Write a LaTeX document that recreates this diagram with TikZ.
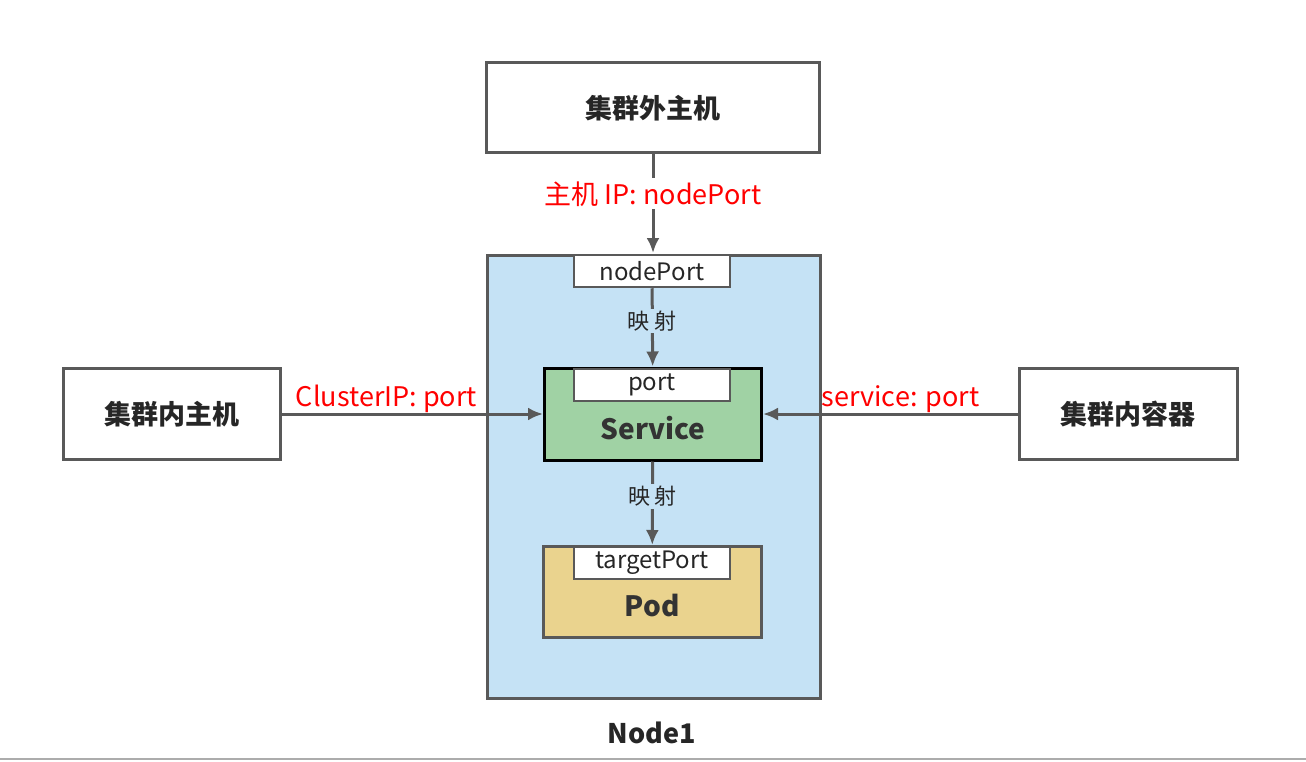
\documentclass[tikz,border=0pt]{standalone}
\usepackage{fontspec}
\setmainfont{Noto Sans CJK SC}
\usetikzlibrary{arrows.meta,positioning}
\definecolor{edge}{HTML}{595959}
\definecolor{nodeblue}{HTML}{C5E2F5}
\definecolor{svcgreen}{HTML}{A0D2A4}
\definecolor{podyellow}{HTML}{EAD38E}
\begin{document}
\begin{tikzpicture}[x=1pt,y=-1pt,>={Latex[length=15pt,width=13pt]},
  box/.style={draw=edge,line width=3pt,fill=white,inner sep=0pt,text=black!85,font=\fontsize{27}{31}\selectfont\bfseries},
  tag/.style={draw=edge,line width=2.5pt,fill=white,inner sep=0pt,minimum width=156pt,minimum height=32pt,text=black!85,font=\fontsize{24}{28}\selectfont},
  conn/.style={->,draw=edge,line width=3pt},
  red/.style={text=red,font=\fontsize{27}{31}\selectfont},
  map/.style={font=\fontsize{22}{26}\selectfont,fill=nodeblue,inner sep=2pt,text=black!85}]
  \useasboundingbox (0,0) rectangle (1306,762);
  \node[box,minimum width=333pt,minimum height=90pt] (outer) at (653,108) {集群外主机};
  \draw[edge,line width=3pt,fill=nodeblue] (487,255) rectangle (820,698);
  \coordinate (nodetop) at (653,253);
  \node[tag] (nodeport) at (652,271) {nodePort};
  \node[box,fill=svcgreen,draw=black,minimum width=217pt,minimum height=92pt] (svc) at (653,414) {};
  \node[tag] (port) at (652,385) {port};
  \node[font=\fontsize{28}{32}\selectfont\bfseries,text=black!80] at (653,428) {Service};
  \node[box,fill=podyellow,minimum width=218pt,minimum height=91pt] (pod) at (652,592) {};
  \node[tag] (target) at (652,563) {targetPort};
  \node[font=\fontsize{28}{32}\selectfont\bfseries,text=black!80] at (652,606) {Pod};
  \node[box,minimum width=217pt,minimum height=91pt] (inhost) at (172,414) {集群内主机};
  \node[box,minimum width=218pt,minimum height=91pt] (incont) at (1128,414) {集群内容器};
  \node[font=\fontsize{27}{31}\selectfont\bfseries,text=black!85] at (652,733) {Node1};
  \draw[conn] (outer) -- node[red,fill=white,inner sep=3pt,pos=0.4] {主机 IP: nodePort} (nodetop);
  \draw[conn] (nodeport) -- node[map,pos=0.42] {映 射} (svc);
  \draw[conn] (svc) -- node[map,pos=0.42] {映 射} (pod);
  \draw[conn] (inhost) -- node[red,above=-4pt,pos=0.4] {ClusterIP: port} (svc);
  \draw[conn] (incont) -- node[red,above=-4pt,pos=0.46] {service: port} (svc);
  \draw[edge!50,line width=2pt] (0,759) -- (1306,759);
\end{tikzpicture}
\end{document}
